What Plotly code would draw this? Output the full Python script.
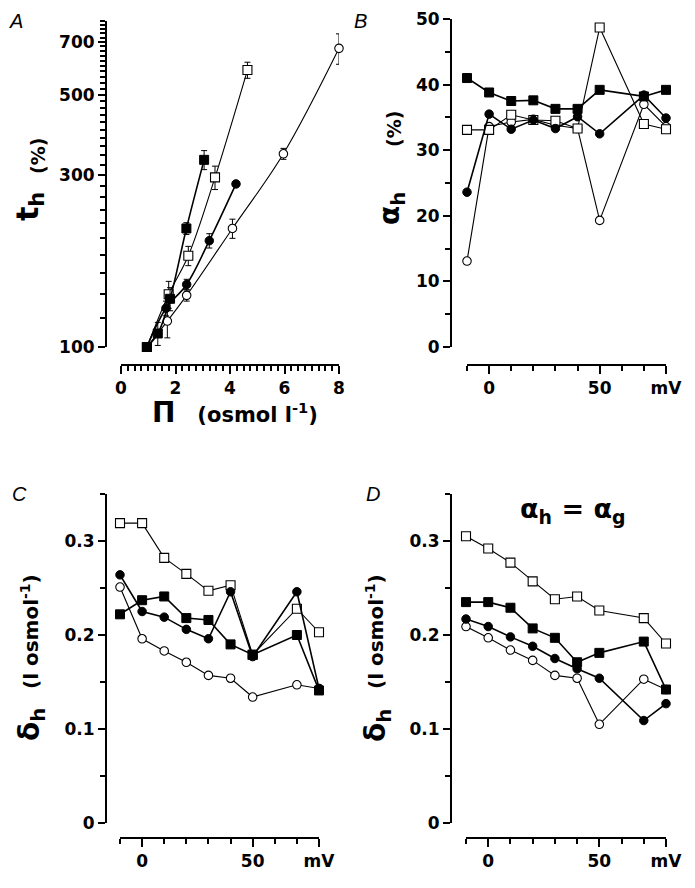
import plotly.graph_objects as go
import numpy as np

# ---------------- data ----------------
# Panel A : t_h (%) vs osmotic pressure (osmol l-1)
A_fsq_x = [0.95, 1.35, 1.8, 2.4, 3.05]
A_fsq_y = [100, 109, 136, 213, 330]
A_fsq_e = [0, 8, 10, 8, 20]
A_osq_x = [0.95, 1.75, 2.47, 3.45, 4.64]
A_osq_y = [100, 140, 179, 295, 585]
A_osq_e = [0, 12, 11, 22, 30]
A_fci_x = [0.95, 1.65, 2.41, 3.24, 4.22]
A_fci_y = [100, 128, 149, 197, 283]
A_fci_e = [0, 6, 5, 9, 0]
A_oci_x = [0.95, 1.7, 2.41, 4.09, 5.96, 8.0]
A_oci_y = [100, 118, 139, 213, 343, 672]
A_oci_e = [0, 12, 5, 13, 12, 65]

# Panels B-D : vs membrane potential (mV)
mV = [-10, 0, 10, 20, 30, 40, 50, 70, 80]
B_fsq = [41.0, 38.8, 37.5, 37.6, 36.3, 36.3, 39.2, 38.2, 39.2]
B_osq = [33.1, 33.1, 35.4, 34.6, 34.5, 33.3, 48.7, 34.0, 33.2]
B_fci = [23.6, 35.5, 33.2, 34.6, 33.3, 35.1, 32.5, 38.4, 34.9]
B_oci = [13.1, 33.6, 34.3, 34.7, 33.8, 33.3, 19.3, 37.0, 33.6]

C_osq = [0.319, 0.319, 0.282, 0.265, 0.247, 0.253, 0.179, 0.228, 0.203]
C_fsq = [0.222, 0.237, 0.241, 0.218, 0.216, 0.190, 0.179, 0.200, 0.141]
C_fci = [0.264, 0.225, 0.219, 0.206, 0.196, 0.246, 0.177, 0.246, 0.143]
C_oci = [0.251, 0.196, 0.183, 0.171, 0.157, 0.154, 0.134, 0.147, 0.143]

D_osq = [0.305, 0.292, 0.277, 0.257, 0.238, 0.241, 0.226, 0.218, 0.191]
D_fsq = [0.235, 0.235, 0.229, 0.207, 0.197, 0.171, 0.181, 0.193, 0.142]
D_fci = [0.217, 0.209, 0.198, 0.188, 0.175, 0.164, 0.154, 0.109, 0.127]
D_oci = [0.209, 0.197, 0.184, 0.173, 0.157, 0.154, 0.105, 0.153, 0.142]

A_ticks = [100, 300, 500, 700]
A_minor = [v for v in range(120, 801, 20) if v not in A_ticks]

# ---------------- layout helpers ----------------
# page body has an 8px margin: the figure is sized to fit the 695x888 window
OFF = 8
W, H = 695 - 2 * OFF, 888 - 2 * OFF
def px(x):
    return (x - OFF) / W
def py(y):
    return 1 - (y - OFF) / H

STYLES = {
    "fsq": dict(symbol="square", color="black", line=dict(color="black", width=1), size=9),
    "osq": dict(symbol="square", color="white", line=dict(color="black", width=1.1), size=9),
    "fci": dict(symbol="circle", color="black", line=dict(color="black", width=1), size=8.5),
    "oci": dict(symbol="circle", color="white", line=dict(color="black", width=1.1), size=8.5),
}
LW = {"fsq": 1.6, "osq": 1.1, "fci": 1.6, "oci": 1.1}

fig = go.Figure()

def add(x, y, kind, xa, ya, err=None, shape="linear"):
    tr = go.Scatter(
        x=x, y=y, mode="lines+markers", xaxis=xa, yaxis=ya,
        marker=STYLES[kind], line=dict(color="black", width=LW[kind], shape=shape),
        cliponaxis=False, showlegend=False,
    )
    if err is not None:
        tr.error_y = dict(type="data", array=err, visible=True, color="black",
                          thickness=1, width=3)
    fig.add_trace(tr)

# Panel A
add(A_oci_x, A_oci_y, "oci", "x", "y", A_oci_e, "spline")
add(A_osq_x, A_osq_y, "osq", "x", "y", A_osq_e, "spline")
add(A_fci_x, A_fci_y, "fci", "x", "y", A_fci_e, "spline")
add(A_fsq_x, A_fsq_y, "fsq", "x", "y", A_fsq_e, "spline")
# Panel B
add(mV, B_oci, "oci", "x2", "y2")
add(mV, B_osq, "osq", "x2", "y2")
add(mV, B_fci, "fci", "x2", "y2")
add(mV, B_fsq, "fsq", "x2", "y2")
# Panel C
add(mV, C_oci, "oci", "x3", "y3")
add(mV, C_osq, "osq", "x3", "y3")
add(mV, C_fci, "fci", "x3", "y3")
add(mV, C_fsq, "fsq", "x3", "y3")
# Panel D
add(mV, D_oci, "oci", "x4", "y4")
add(mV, D_osq, "osq", "x4", "y4")
add(mV, D_fci, "fci", "x4", "y4")
add(mV, D_fsq, "fsq", "x4", "y4")

TF = dict(family="DejaVu Sans", size=17, color="black", weight="bold")
common = dict(showgrid=False, zeroline=False, showline=True, linecolor="black",
              linewidth=2, ticks="outside", tickcolor="black", tickwidth=1.5,
              tickfont=TF, anchor="free", automargin=False)

def mv_xaxis(x0, x1, ypos):
    return dict(common, domain=[px(x0), px(x1)], position=py(ypos),
                range=[-10, 80], tickmode="array", tickvals=[0, 50, 80],
                ticktext=["0", "50", "mV"], ticklen=8,
                minor=dict(tickmode="array", tickvals=[-10, 10, 20, 30, 40, 60, 70],
                           ticklen=5, tickwidth=1.5, tickcolor="black", ticks="outside"))

def delta_yaxis(xpos):
    return dict(common, domain=[py(823), py(494)], position=px(xpos),
                range=[0, 0.35], tickmode="array", tickvals=[0, 0.1, 0.2, 0.3],
                ticktext=["0", "0.1", "0.2", "0.3"], ticklen=7,
                minor=dict(tickmode="array", tickvals=[0.05, 0.15, 0.25, 0.35],
                           ticklen=5, tickwidth=1.5, tickcolor="black", ticks="outside"))

fig.update_layout(
    template="none",
    width=W, height=H, margin=dict(l=0, r=0, t=0, b=0, autoexpand=False),
    paper_bgcolor="white", plot_bgcolor="white",
    xaxis=dict(common, domain=[px(121), px(339)], position=py(365), range=[0, 8],
               tickmode="array", tickvals=[0, 2, 4, 6, 8], ticklen=8,
               minor=dict(tickmode="linear", tick0=0, dtick=0.25, ticklen=5,
                          tickwidth=1.5, tickcolor="black", ticks="outside")),
    yaxis=dict(common, domain=[py(347), py(21)], position=px(106), type="log",
               range=[2, np.log10(800)], tickmode="array", tickvals=A_ticks,
               ticktext=[str(v) for v in A_ticks], ticklen=7,
               minor=dict(tickmode="array", tickvals=A_minor, ticklen=5,
                          tickwidth=1.5, tickcolor="black", ticks="outside")),
    xaxis2=mv_xaxis(467, 666, 365),
    yaxis2=dict(common, domain=[py(347), py(19)], position=px(451), range=[0, 50],
                tickmode="array", tickvals=[0, 10, 20, 30, 40, 50], ticklen=7,
                minor=dict(tickmode="array", tickvals=[5, 15, 25, 35, 45], ticklen=5,
                           tickwidth=1.5, tickcolor="black", ticks="outside")),
    xaxis3=mv_xaxis(120, 319, 838),
    yaxis3=delta_yaxis(106),
    xaxis4=mv_xaxis(466, 666, 838),
    yaxis4=delta_yaxis(451),
)

anns = []
def ann(x, y, text, size, angle=0, family="DejaVu Sans", bold=True, italic=False,
        yanchor="middle"):
    if bold:
        text = "<b>" + text + "</b>"
    if italic:
        text = "<i>" + text + "</i>"
    anns.append(dict(x=px(x), y=py(y), xref="paper", yref="paper", text=text,
                     showarrow=False, textangle=angle, xanchor="center", yanchor=yanchor,
                     font=dict(family=family, size=size, color="black")))

# panel letters
ann(16, 8, "A", 20, family="Liberation Sans", bold=False, italic=True, yanchor="top")
ann(360, 8, "B", 20, family="Liberation Sans", bold=False, italic=True, yanchor="top")
ann(19, 494, "C", 20, family="Liberation Sans", bold=False, italic=True)
ann(373, 494, "D", 20, family="Liberation Sans", bold=False, italic=True)

# y titles
ann(29, 207, "t<sub>h</sub>", 30, -90)
ann(38, 156, "(%)", 19, -90)
ann(391, 209, "α<sub>h</sub>", 28, -90)
ann(394, 129, "(%)", 19, -90)
ann(31, 725, "δ<sub>h</sub>", 28, -90)
ann(30, 632, "(l osmol<sup>-1</sup>)", 20, -90)
ann(377, 725, "δ<sub>h</sub>", 28, -90)
ann(375, 632, "(l osmol<sup>-1</sup>)", 20, -90)
# x title A
ann(235, 412, "<span style='font-size:28px'>Π</span>   (osmol l<sup>-1</sup>)", 21)
# D title
ann(573, 510, "α<sub>h</sub> = α<sub>g</sub>", 27)

fig.update_layout(annotations=anns)
fig.write_html("out.html")
